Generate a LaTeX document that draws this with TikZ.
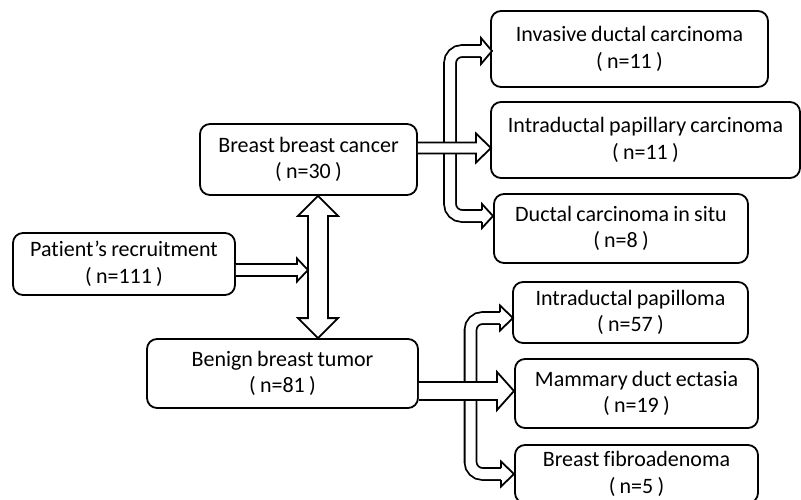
\documentclass[tikz,border=0pt]{standalone}
\usepackage{fontspec}
\setmainfont[WordSpace=0.85, Ligatures={NoCommon}]{Carlito}
\usetikzlibrary{calc}
\tikzset{
  box/.style={draw, line width=1.8pt, rounded corners=10pt, fill=white, align=center,
    inner sep=0pt, outer sep=0pt, font=\fontsize{22}{26.5}\selectfont},
  arrline/.style={draw, line width=1.8pt, line join=miter, fill=white},
  fork/.style={draw, line width=1.8pt, double=white, double distance=10pt, rounded corners=12pt},
}
% horizontal block arrow: start, tip, head length, head half height, shaft half height
\newcommand\harrow[5]{%
  \filldraw[arrline] ($(#1)+(0,-#5)$) -- ($(#2)+(-#3,-#5)$) -- ($(#2)+(-#3,-#4)$) -- (#2)
    -- ($(#2)+(-#3,#4)$) -- ($(#2)+(-#3,#5)$) -- ($(#1)+(0,#5)$);}
% arrow head for a fork end: tip, head length, head half height, shaft half height
\newcommand\headR[4]{%
  \filldraw[arrline] ($(#1)+(-#2,-#4)$) -- ($(#1)+(-#2,-#3)$) -- (#1)
    -- ($(#1)+(-#2,#3)$) -- ($(#1)+(-#2,#4)$);}
\begin{document}
\begin{tikzpicture}[x=1pt,y=-1pt]
\useasboundingbox (0,0) rectangle (801,499);

\node[box, minimum width=222pt, minimum height=62pt] (pat) at (124,264) {Patient’s recruitment\\( n=111 )};
\node[box, minimum width=217pt, minimum height=71pt] (can) at (308.5,159.5) {Breast breast cancer\\( n=30 )};
\node[box, minimum width=271pt, minimum height=69pt] (ben) at (282.5,373.5) {Benign breast tumor\\( n=81 )};
\node[box, minimum width=277pt, minimum height=76pt] (inv) at (629.5,49) {Invasive ductal carcinoma\\( n=11 )};
\node[box, minimum width=309pt, minimum height=76pt] (ipc) at (645.5,140) {Intraductal papillary carcinoma\\( n=11 )};
\node[box, minimum width=254pt, minimum height=69pt] (dcis) at (621,228.5) {Ductal carcinoma in situ\\( n=8 )};
\node[box, minimum width=235pt, minimum height=61pt] (ip) at (630.5,312.5) {Intraductal papilloma\\( n=57 )};
\node[box, minimum width=243pt, minimum height=69pt] (mde) at (636.5,393.5) {Mammary duct ectasia\\( n=19 )};
\node[box, minimum width=243pt, minimum height=58pt] (fib) at (636.5,474) {Breast fibroadenoma\\( n=5 )};

% cancer fork
\coordinate (ft1) at ($(inv.west)+(1,2)$);
\coordinate (ft2) at ($(dcis.west)+(-1,-12.5)$);
\coordinate (fx) at ($(can.east)+(33,0)$);
\draw[fork] ($(ft1)+(-11,0)$) -- (fx |- ft1) -- (fx |- ft2) -- ($(ft2)+(-11,0)$);
\headR{ft1}{11}{13}{6}
\headR{ft2}{11}{12}{6}

% benign fork
\coordinate (bt1) at ($(ip.west)+(0,5.5)$);
\coordinate (bt2) at ($(fib.west)+(-1,0)$);
\coordinate (bx) at ($(ben.east)+(52.5,0)$);
\draw[fork] ($(bt1)+(-13,0)$) -- (bx |- bt1) -- (bx |- bt2) -- ($(bt2)+(-13,0)$);
\headR{bt1}{13}{12.5}{6}
\headR{bt2}{13}{12.5}{6}

% middle arrows
\coordinate (cm) at ($(ipc.west)+(0,8)$);
\coordinate (cs) at ($(can.east |- cm)+(0.9,0)$);
\harrow{cs}{cm}{15}{14.5}{5.5}
\coordinate (bm) at ($(mde.west)+(-1,-2.5)$);
\coordinate (bs) at ($(ben.east |- bm)+(0.9,0)$);
\harrow{bs}{bm}{17}{19}{9}

% vertical double arrow
\coordinate (vtop) at ($(can.south)+(9.5,0.9)$);
\coordinate (vbot) at ($(vtop |- ben.north)+(0,-0.9)$);
\filldraw[arrline] (vtop) -- ++(20,20) -- ++(-10,0) -- ($(vbot)+(10,-20)$) -- ++(10,0) -- (vbot)
  -- ++(-20,-20) -- ++(10,0) -- ($(vtop)+(-10,20)$) -- ++(-10,0) -- cycle;

% patient arrow
\coordinate (pt) at ($(vtop |- pat.east)+(-10,6)$);
\coordinate (ps) at ($(pat.east |- pt)+(0.9,0)$);
\harrow{ps}{pt}{11}{11.5}{6}
\end{tikzpicture}
\end{document}
